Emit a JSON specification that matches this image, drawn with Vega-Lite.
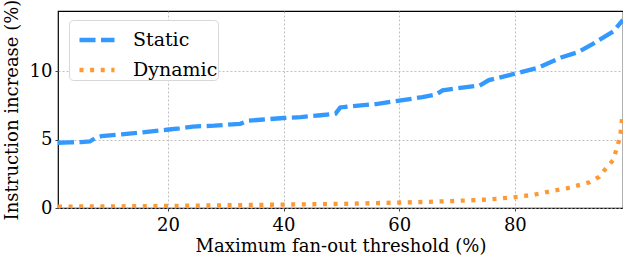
{
  "$schema": "https://vega.github.io/schema/vega-lite/v6.json",
  "autosize": "none",
  "width": 565,
  "height": 197,
  "padding": {"left": 58, "top": 11, "right": 0, "bottom": 52},
  "config": {
    "font": "DejaVu Serif",
    "view": {"stroke": "black", "strokeWidth": 1.2},
    "axis": {"labelFont": "DejaVu Serif", "titleFont": "DejaVu Serif", "labelColor": "black", "titleColor": "black", "labelFontSize": 18, "titleFontSize": 18, "titleFontWeight": "normal", "gridColor": "#b0b0b0", "gridDash": [2, 2], "gridWidth": 0.8, "domainColor": "black", "tickColor": "#444"}
  },
  "datasets": {
    "rows": [
      {"t": 1, "v": 4.77, "s": "Static"},
      {"t": 3, "v": 4.8, "s": "Static"},
      {"t": 5, "v": 4.82, "s": "Static"},
      {"t": 6.5, "v": 4.86, "s": "Static"},
      {"t": 7.6, "v": 5.15, "s": "Static"},
      {"t": 8.5, "v": 5.25, "s": "Static"},
      {"t": 12, "v": 5.38, "s": "Static"},
      {"t": 15, "v": 5.5, "s": "Static"},
      {"t": 19.8, "v": 5.72, "s": "Static"},
      {"t": 22, "v": 5.82, "s": "Static"},
      {"t": 24.3, "v": 5.95, "s": "Static"},
      {"t": 28, "v": 6.02, "s": "Static"},
      {"t": 32.5, "v": 6.15, "s": "Static"},
      {"t": 33.9, "v": 6.38, "s": "Static"},
      {"t": 36, "v": 6.45, "s": "Static"},
      {"t": 40, "v": 6.58, "s": "Static"},
      {"t": 43, "v": 6.65, "s": "Static"},
      {"t": 46.4, "v": 6.78, "s": "Static"},
      {"t": 49, "v": 6.9, "s": "Static"},
      {"t": 49.8, "v": 7.35, "s": "Static"},
      {"t": 52, "v": 7.45, "s": "Static"},
      {"t": 56, "v": 7.6, "s": "Static"},
      {"t": 60, "v": 7.85, "s": "Static"},
      {"t": 64, "v": 8.1, "s": "Static"},
      {"t": 66.4, "v": 8.3, "s": "Static"},
      {"t": 67.5, "v": 8.6, "s": "Static"},
      {"t": 70, "v": 8.75, "s": "Static"},
      {"t": 73.9, "v": 8.95, "s": "Static"},
      {"t": 75.5, "v": 9.35, "s": "Static"},
      {"t": 78, "v": 9.6, "s": "Static"},
      {"t": 80, "v": 9.82, "s": "Static"},
      {"t": 84, "v": 10.25, "s": "Static"},
      {"t": 88, "v": 11.0, "s": "Static"},
      {"t": 91, "v": 11.4, "s": "Static"},
      {"t": 93.5, "v": 12.0, "s": "Static"},
      {"t": 97, "v": 12.9, "s": "Static"},
      {"t": 98.7, "v": 13.75, "s": "Static"},
      {"t": 1, "v": 0.1, "s": "Dynamic"},
      {"t": 10, "v": 0.12, "s": "Dynamic"},
      {"t": 20, "v": 0.15, "s": "Dynamic"},
      {"t": 30, "v": 0.2, "s": "Dynamic"},
      {"t": 40, "v": 0.25, "s": "Dynamic"},
      {"t": 50, "v": 0.3, "s": "Dynamic"},
      {"t": 60, "v": 0.4, "s": "Dynamic"},
      {"t": 65, "v": 0.45, "s": "Dynamic"},
      {"t": 70, "v": 0.52, "s": "Dynamic"},
      {"t": 75.7, "v": 0.63, "s": "Dynamic"},
      {"t": 79.7, "v": 0.78, "s": "Dynamic"},
      {"t": 83, "v": 0.95, "s": "Dynamic"},
      {"t": 87.2, "v": 1.3, "s": "Dynamic"},
      {"t": 89, "v": 1.44, "s": "Dynamic"},
      {"t": 92.9, "v": 1.88, "s": "Dynamic"},
      {"t": 94.6, "v": 2.28, "s": "Dynamic"},
      {"t": 95.6, "v": 2.82, "s": "Dynamic"},
      {"t": 97, "v": 3.5, "s": "Dynamic"},
      {"t": 97.7, "v": 4.47, "s": "Dynamic"},
      {"t": 98.2, "v": 5.2, "s": "Dynamic"},
      {"t": 98.4, "v": 5.93, "s": "Dynamic"},
      {"t": 98.6, "v": 6.8, "s": "Dynamic"}
    ]
  },
  "data": {"name": "rows"},
  "mark": {"type": "line", "strokeWidth": 4.3, "clip": true},
  "encoding": {
    "x": {
      "field": "t", "type": "quantitative",
      "scale": {"domain": [1, 98.7], "nice": false, "zero": false},
      "axis": {"values": [20, 40, 60, 80], "title": "Maximum fan-out threshold (%)", "tickSize": 3, "labelPadding": 5, "titlePadding": 3, "domain": false}
    },
    "y": {
      "field": "v", "type": "quantitative",
      "scale": {"domain": [0, 14.4], "nice": false},
      "axis": {"values": [0, 5, 10], "title": "Instruction increase (%)", "tickSize": 3, "labelPadding": 3, "titlePadding": 8, "domain": false}
    },
    "color": {
      "field": "s", "type": "nominal",
      "scale": {"domain": ["Static", "Dynamic"], "range": ["#3399ff", "#ff9933"]},
      "legend": {
        "title": null, "orient": "none", "legendX": 11, "legendY": 9,
        "symbolType": "stroke", "symbolSize": 1225, "symbolStrokeWidth": 4.3,
        "symbolOffset": 8,
        "labelFontSize": 19, "labelFont": "DejaVu Serif", "labelColor": "black",
        "labelOffset": 16, "rowPadding": 0,
        "padding": 0, "cornerRadius": 4, "strokeColor": "#d8d8d8", "fillColor": "white"
      }
    },
    "strokeDash": {
      "field": "s", "type": "nominal",
      "scale": {"domain": ["Static", "Dynamic"], "range": [[16, 5.5], [4, 6.6]]},
      "legend": null
    }
  }
}
